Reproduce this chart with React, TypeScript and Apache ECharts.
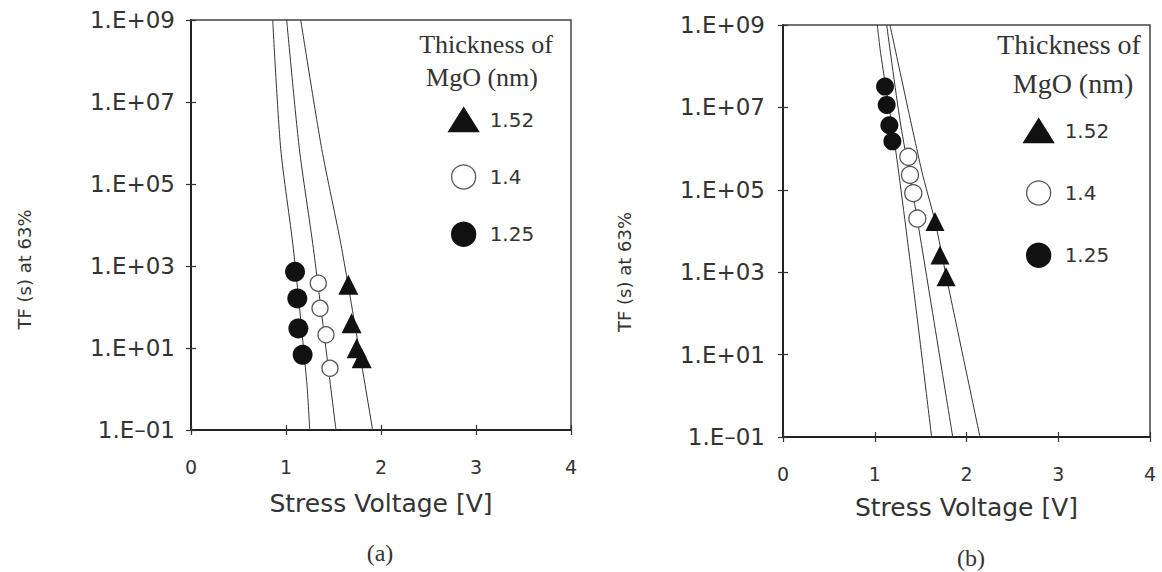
import React, { useEffect, useRef } from 'react';
import * as echarts from 'echarts';

// ---------- data ----------
const xTicks = [0, 1, 2, 3, 4];
const yExponents = [-1, 1, 3, 5, 7, 9];
const yTickLabels = ['1.E\u201301', '1.E+01', '1.E+03', '1.E+05', '1.E+07', '1.E+09'];
const thicknessLabels = ['1.52', '1.4', '1.25'];

// panel (a): [stress voltage V, TF (s)]
const aThick152 = [[1.656, 350], [1.69, 40], [1.744, 9.8], [1.797, 5.6]];
const aThick140 = [[1.34, 380], [1.358, 93], [1.421, 21], [1.463, 3.2]];
const aThick125 = [[1.095, 720], [1.119, 162], [1.13, 30], [1.175, 6.8]];
const aFit125 = [[0.86, 1e9], [0.944, 7.4e5], [1.077, 2.7e3], [1.218, 1.5], [1.25, 0.1]];
const aFit140 = [[1.007, 1e9], [1.14, 7.4e5], [1.288, 2.7e3], [1.526, 0.1]];
const aFit152 = [[1.155, 1e9], [1.375, 7.4e5], [1.586, 2.7e3], [1.912, 0.1]];

// panel (b)
const bThick152 = [[1.657, 1.7e4], [1.711, 2.6e3], [1.777, 780]];
const bThick140 = [[1.366, 6.3e5], [1.384, 2.3e5], [1.42, 8.3e4], [1.464, 2.0e4]];
const bThick125 = [[1.112, 3.2e7], [1.13, 1.15e7], [1.159, 3.7e6], [1.192, 1.5e6]];
const bFit125 = [[1.028, 1e9], [1.065, 2.0e8], [1.232, 7.8e5], [1.42, 450], [1.62, 0.1]];
const bFit140 = [[1.13, 1e9], [1.275, 4.9e6], [1.464, 1.9e4], [1.85, 0.1]];
const bFit152 = [[1.166, 1e9], [1.51, 3.0e5], [1.657, 1.7e4], [1.78, 780], [2.147, 0.1]];

const SANS = 'DejaVu Sans';
const SERIF = 'Liberation Serif';
const TXT = '#333';

function yFmt(v: number) {
  const e = Math.round(Math.log10(v));
  const i = yExponents.indexOf(e);
  return i >= 0 ? yTickLabels[i] : '';
}

function makeX(gridIndex: number, primary: boolean, labelMargin: number, nameGap: number) {
  return {
    type: 'value', gridIndex, min: xTicks[0], max: xTicks[xTicks.length - 1], interval: 1,
    position: 'bottom',
    name: primary ? 'Stress Voltage [V]' : '',
    nameLocation: 'middle', nameGap,
    nameTextStyle: { fontFamily: SANS, fontSize: 25, color: TXT },
    axisLine: { show: primary, onZero: false, lineStyle: { color: '#222', width: 2 } },
    axisTick: { show: true, inside: !primary, length: 5, lineStyle: { color: '#333', width: 1.2 } },
    axisLabel: { show: primary, margin: labelMargin, fontFamily: SANS, fontSize: 19, color: TXT },
    splitLine: { show: false },
  };
}

function makeY(gridIndex: number, primary: boolean, labelMargin: number, nameGap: number, shift: number) {
  return {
    type: 'log', logBase: 10, gridIndex, min: 0.1, max: 1e9, interval: 2,
    position: 'left',
    name: primary ? 'TF (s) at 63%' : '',
    nameLocation: 'middle', nameGap,
    nameTextStyle: { fontFamily: SANS, fontSize: 18, color: TXT, padding: [0, shift, 0, 0] },
    axisLine: { show: primary, onZero: false, lineStyle: { color: '#222', width: 2 } },
    axisTick: { show: true, inside: !primary, length: 5, lineStyle: { color: '#333', width: 1.2 } },
    axisLabel: { show: primary, margin: labelMargin, fontFamily: SANS, fontSize: 23, color: TXT, formatter: yFmt },
    splitLine: { show: false },
    minorTick: { show: false },
  };
}

const filled = { color: '#111', borderColor: '#111', borderWidth: 0, opacity: 1 };
const open = { color: '#fff', borderColor: '#555', borderWidth: 1.3, opacity: 1 };

function scatter(name: string, data: number[][], xi: number, yi: number, symbol: string, size: number, style: any) {
  return { type: 'scatter', name, data, xAxisIndex: xi, yAxisIndex: yi, symbol, symbolSize: size, itemStyle: style, z: 5 };
}
function fit(name: string, data: number[][], xi: number, yi: number) {
  return {
    type: 'line', name, data, xAxisIndex: xi, yAxisIndex: yi, showSymbol: false, symbol: 'none',
    smooth: 0.25,
    lineStyle: { color: '#333', width: 1 }, z: 3, clip: true,
  };
}

export default function App() {
  const ref = useRef<HTMLDivElement>(null);
  useEffect(() => {
    if (!ref.current) return;
    const chart = echarts.init(ref.current, undefined, { renderer: 'svg' });
    const legendCommon = {
      orient: 'vertical', itemWidth: 30, itemHeight: 24, selectedMode: false,
      data: thicknessLabels,
      itemStyle: { borderWidth: 1.3, opacity: 1 },
      textStyle: { fontFamily: SANS, fontSize: 20, color: TXT, padding: [0, 0, 0, 6] },
    };
    const t = (x: number, y: number, text: string, size: number) => ({
      type: 'text', x, y,
      style: { text, fontFamily: SERIF, fontSize: size, fill: TXT, textAlign: 'center', textVerticalAlign: 'middle' },
    });
    chart.setOption({
      animation: false,
      backgroundColor: '#fff',
      grid: [
        { left: 191, top: 20, width: 380, height: 410, show: true, borderColor: '#444', borderWidth: 1.5, backgroundColor: 'transparent' },
        { left: 783, top: 25, width: 367, height: 412, show: true, borderColor: '#444', borderWidth: 1.5, backgroundColor: 'transparent' },
      ],
      xAxis: [
        makeX(0, true, 27, 61),
        makeX(0, false, 0, 0),
        makeX(1, true, 27, 58),
        makeX(1, false, 0, 0),
      ],
      yAxis: [
        makeY(0, true, 16, 158, 89),
        makeY(0, false, 0, 0, 0),
        makeY(1, true, 18, 150, 82),
        makeY(1, false, 0, 0, 0),
      ],
      legend: [
        { ...legendCommon, left: 443, top: 102, itemGap: 32 },
        { ...legendCommon, left: 1018, top: 113, itemGap: 37 },
      ],
      graphic: [
        t(486, 44, 'Thickness of', 26),
        t(482, 77, 'MgO (nm)', 26),
        t(1069, 44, 'Thickness of', 28),
        t(1073, 83, 'MgO (nm)', 28),
        t(380, 553, '(a)', 24),
        t(971, 558, '(b)', 24),
      ],
      series: [
        fit('fit a 1.25', aFit125, 0, 0),
        fit('fit a 1.4', aFit140, 0, 0),
        fit('fit a 1.52', aFit152, 0, 0),
        scatter('1.52', aThick152, 0, 0, 'triangle', 20, filled),
        scatter('1.4', aThick140, 0, 0, 'circle', 16, open),
        scatter('1.25', aThick125, 0, 0, 'circle', 20, filled),
        fit('fit b 1.25', bFit125, 2, 2),
        fit('fit b 1.4', bFit140, 2, 2),
        fit('fit b 1.52', bFit152, 2, 2),
        scatter('1.52', bThick152, 2, 2, 'triangle', 19, filled),
        scatter('1.4', bThick140, 2, 2, 'circle', 17, open),
        scatter('1.25', bThick125, 2, 2, 'circle', 18, filled),
      ],
    });
    return () => chart.dispose();
  }, []);
  return <div ref={ref} style={{ position: 'absolute', left: 0, top: 0, width: 1162, height: 572, background: '#fff' }} />;
}
